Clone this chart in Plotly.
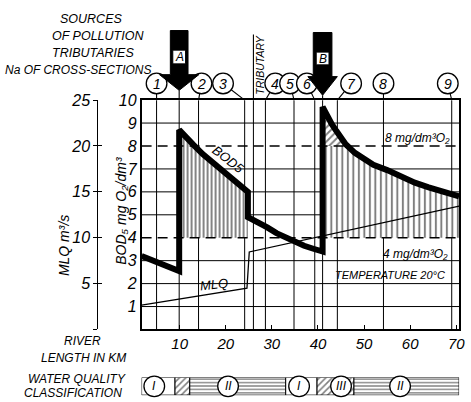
import numpy as np
import plotly.graph_objects as go

# ---------------- data (x = river length in km) ----------------
# BOD5 profile in mg O2/dm3, split into reaches between discharge points
reach1_km = [1.75, 9.9]
reach1_bod = [3.2, 2.55]
reach2_km = [9.9, 11, 13, 15, 17, 19, 21, 23, 24.8]
reach2_bod = [8.7, 8.45, 8.05, 7.65, 7.3, 6.95, 6.62, 6.3, 6.0]
reach3_km = [24.8, 27, 29, 31, 33, 35, 37, 39, 41.0]
reach3_bod = [4.9, 4.68, 4.45, 4.2, 4.0, 3.82, 3.65, 3.52, 3.4]
reach4_km = [41.0, 42, 43, 44, 45, 46, 48, 50, 52, 55, 58, 61, 64, 67, 70.6]
reach4_bod = [9.7, 9.3, 8.95, 8.65, 8.35, 8.08, 7.7, 7.4, 7.18, 6.95, 6.65, 6.4, 6.2, 6.0, 5.8]

# MLQ discharge in m3/s
mlq_km = [1.75, 24.6, 25.1, 70.6]
mlq_val = [2.65, 4.5, 8.45, 13.45]

# pollution sources, tributary and numbered cross-sections
source_names = ["A", "B"]
source_km = [9.9, 41.0]
tributary_km = 26.0
section_km = [5.0, 14.1, 24.1, 28.6, 34.8, 39.3, 44.2, 54.2, 69.0]
section_no = ["1", "2", "3", "4", "5", "6", "7", "8", "9"]

# BOD5 limits, mg O2/dm3
limit_hi = 8
limit_lo = 4

# axis ticks
bod_ticks = [1, 2, 3, 4, 5, 6, 7, 8, 9, 10]
mlq_ticks = [0, 5, 10, 15, 20, 25]
mlq_tick_text = ["", "5", "10", "15", "20", "25"]
km_ticks = [10, 20, 30, 40, 50, 60, 70]

# water quality classification along the river
wq_from = [1.75, 9.0, 12.2, 33.0, 39.8, 47.8]
wq_to = [9.0, 12.2, 33.0, 39.8, 47.8, 70.6]
wq_cls = ["I", "III", "II", "I", "III", "II"]
wq_label_km = [4.5, 20.5, 35.9, 45.0, 57.8]
wq_label_cls = ["I", "II", "I", "III", "II"]

# ---------------- layout geometry (pixels) ----------------
W, H = 471, 402
BL, BT, BR, BB = 142, 94, 465, 328          # plot box
KM_RANGE = [1.75, 70.6]
MLQ_AXIS_X = 97
FONT = "Liberation Sans, DejaVu Sans, Arial, sans-serif"


def km_px(km):
    return BL + (km - KM_RANGE[0]) / (KM_RANGE[1] - KM_RANGE[0]) * (BR - BL)


def fx(px):
    return px / W


def fy(py):
    return 1 - py / H


def it(s):
    return f"<i>{s}</i>"


def pfont(size):
    return dict(family=FONT, size=size, color="black")


shapes = []
annotations = []


def note(text, px, py, size=12, angle=0, anchor="center"):
    annotations.append(dict(text=it(text), x=fx(px), y=fy(py), xref="paper", yref="paper",
                            showarrow=False, font=pfont(size), textangle=angle,
                            xanchor=anchor, yanchor="middle"))


def pline(x0, y0, x1, y1, width=1.2, layer="above"):
    shapes.append(dict(type="line", xref="paper", yref="paper", x0=fx(x0), y0=fy(y0),
                       x1=fx(x1), y1=fy(y1), line=dict(color="black", width=width), layer=layer))


def circle(cx, cy, r, width=1.3):
    shapes.append(dict(type="circle", xref="paper", yref="paper",
                       x0=fx(cx - r), x1=fx(cx + r), y0=fy(cy + r), y1=fy(cy - r),
                       line=dict(color="black", width=width), fillcolor="white"))


fig = go.Figure()

# ---- hatched area below source A (BOD above 4 mg/dm3) ----
fig.add_trace(go.Scatter(x=[reach2_km[0], reach2_km[-1]], y=[limit_lo, limit_lo], mode="lines",
                         line=dict(width=0), hoverinfo="skip"))
fig.add_trace(go.Scatter(x=reach2_km, y=reach2_bod, mode="lines", line=dict(width=0),
                         fill="tonexty", fillcolor="white",
                         fillpattern=dict(shape="|", size=4, solidity=0.48, fgcolor="black",
                                          bgcolor="white"), hoverinfo="skip"))

# ---- hatched areas below source B ----
r4_km = np.array(reach4_km)
r4_bod = np.array(reach4_bod)
x_cross = float(np.interp(limit_hi, r4_bod[::-1], r4_km[::-1]))
above = r4_bod >= limit_hi
hi_km = np.append(r4_km[above], x_cross)
hi_bod = np.append(r4_bod[above], limit_hi)
lo_km = np.concatenate([r4_km[above], [x_cross], r4_km[~above]])
lo_bod = np.minimum(np.concatenate([r4_bod[above], [limit_hi], r4_bod[~above]]), limit_hi)

fig.add_trace(go.Scatter(x=[lo_km[0], lo_km[-1]], y=[limit_lo, limit_lo], mode="lines",
                         line=dict(width=0), hoverinfo="skip"))
fig.add_trace(go.Scatter(x=lo_km, y=lo_bod, mode="lines", line=dict(width=0),
                         fill="tonexty", fillcolor="white",
                         fillpattern=dict(shape="|", size=5.5, solidity=0.36, fgcolor="black",
                                          bgcolor="white"), hoverinfo="skip"))
fig.add_trace(go.Scatter(x=[hi_km[0], hi_km[-1]], y=[limit_hi, limit_hi], mode="lines",
                         line=dict(width=0), hoverinfo="skip"))
fig.add_trace(go.Scatter(x=hi_km, y=hi_bod, mode="lines", line=dict(width=0),
                         fill="tonexty", fillcolor="white",
                         fillpattern=dict(shape="/", size=5, solidity=0.38, fgcolor="black",
                                          bgcolor="white"), hoverinfo="skip"))

# ---- MLQ line (scale in m3/s) ----
fig.add_trace(go.Scatter(x=mlq_km, y=mlq_val, yaxis="y2", mode="lines",
                         line=dict(color="black", width=1.3), hoverinfo="skip"))
fig.add_trace(go.Scatter(x=[None], y=[None], yaxis="y4", mode="lines", hoverinfo="skip"))

# ---- BOD5 thick curve ----
bod_km = reach1_km + reach2_km + reach3_km + reach4_km
bod_val = reach1_bod + reach2_bod + reach3_bod + reach4_bod
fig.add_trace(go.Scatter(x=bod_km, y=bod_val, mode="lines",
                         line=dict(color="black", width=6), hoverinfo="skip"))

# ---- water quality classification strip ----
patterns = {"I": None,
            "II": dict(shape="-", size=3.4, solidity=0.4, fgcolor="black", bgcolor="white"),
            "III": dict(shape="/", size=4.5, solidity=0.35, fgcolor="black", bgcolor="white")}
for a, b, c in zip(wq_from, wq_to, wq_cls):
    kw = dict(fillpattern=patterns[c]) if patterns[c] else {}
    fig.add_trace(go.Scatter(x=[a, b, b, a, a], y=[0, 0, 1, 1, 0], yaxis="y3", mode="lines",
                             fill="toself", fillcolor="white",
                             line=dict(color="black", width=1), hoverinfo="skip", **kw))
for k, c in zip(wq_label_km, wq_label_cls):
    circle(km_px(k), 386, 10.5)
    note(c, km_px(k), 386, size=12)

# ---- grid lines ----
for v in bod_ticks[:-1]:
    if v in (limit_lo, limit_hi):
        shapes.append(dict(type="line", xref="paper", yref="y", x0=fx(BL), x1=fx(BR), y0=v, y1=v,
                           line=dict(color="black", width=1.7, dash="10px,6px"), layer="above"))
    else:
        shapes.append(dict(type="line", xref="paper", yref="y", x0=fx(BL), x1=fx(BR), y0=v, y1=v,
                           line=dict(color="black", width=1), layer="below"))

for k in section_km + source_km + [tributary_km]:
    shapes.append(dict(type="line", xref="x", yref="y", x0=k, x1=k, y0=0, y1=10,
                       line=dict(color="black", width=1), layer="below"))

# ---- numbered cross-sections with leader lines ----
label_dx = [0, 3, -22, 10, -4, -8, 14, 0, -4]
R = 10.5
for k, n, dx in zip(section_km, section_no, label_dx):
    lx = km_px(k)
    cx, cy = lx + dx, 77
    vx, vy = lx - cx, BT - cy
    d = (vx ** 2 + vy ** 2) ** 0.5
    pline(cx + R * vx / d, cy + R * vy / d, lx, BT, width=1.1)
    circle(cx, cy, R)
    note(n, cx, cy + 0.5, size=14)

# ---- pollution source arrows ----
arrow_geom = [dict(top=23, shaft=9, base=68, head=20, tip=84, box=(43, 57)),
              dict(top=25, shaft=9.5, base=70, head=15, tip=89, box=(45, 58))]
for name, k, g in zip(source_names, source_km, arrow_geom):
    cx = km_px(k)
    pts = [(cx - g["shaft"], g["top"]), (cx + g["shaft"], g["top"]), (cx + g["shaft"], g["base"]),
           (cx + g["head"], g["base"]), (cx, g["tip"]), (cx - g["head"], g["base"]),
           (cx - g["shaft"], g["base"])]
    path = "M " + " L ".join(f"{fx(x):.5f},{fy(y):.5f}" for x, y in pts) + " Z"
    shapes.append(dict(type="path", path=path, xref="paper", yref="paper",
                       fillcolor="black", line=dict(color="black", width=1)))
    pline(cx, g["tip"], cx, BT, width=1.1)
    y0, y1 = g["box"]
    shapes.append(dict(type="rect", xref="paper", yref="paper", x0=fx(cx - 6.5), x1=fx(cx + 6.5),
                       y0=fy(y1), y1=fy(y0), fillcolor="white", line=dict(color="black", width=1)))
    note(name, cx, (y0 + y1) / 2 + 0.5, size=12)

# ---- tributary ----
tx = km_px(tributary_km)
pline(tx, 27, tx, BT, width=1.1)
note("TRIBUTARY", tx + 6.5, 58, size=10.5, angle=-90)

# ---- texts ----
note("SOURCES", 91, 11, size=12.5)
note("OF POLLUTION", 98, 29, size=12.5)
note("TRIBUTARIES", 93, 46, size=12.5)
note("Na OF CROSS-SECTIONS", 77, 63, size=12)

note("BOD₅ mg O₂/dm³", 121, 207, size=14, angle=-90)
note("MLQ m³/s", 63, 242, size=14, angle=-90)

note("BOD5", 230, 155, size=13, angle=38)
note("MLQ", 216, 282, size=13, angle=-6)
note("8 mg/dm³O₂", 423, 133, size=12)
note("4 mg/dm³O₂", 421, 251, size=12)
note("TEMPERATURE 20°C", 395, 272, size=11)

note("RIVER", 82, 340, size=12)
note("LENGTH IN KM", 83, 357, size=12)
note("WATER QUALITY", 76, 379, size=12)
note("CLASSIFICATION", 72, 393, size=12)

# ---------------- axes ----------------
xdom = [fx(BL), fx(BR)]
ydom = [fy(BB), fy(BT)]
fig.update_layout(
    width=W, height=H, autosize=False,
    margin=dict(l=0, r=0, t=0, b=0),
    paper_bgcolor="white", plot_bgcolor="white",
    showlegend=False,
    font=dict(family=FONT, size=12, color="black"),
    xaxis=dict(domain=xdom, range=KM_RANGE, anchor="y", showgrid=False, zeroline=False,
               showline=True, linecolor="black", linewidth=1.5, mirror=True,
               tickvals=km_ticks, ticktext=[it(v) for v in km_ticks], ticklabeloverflow="allow",
               ticks="inside", ticklen=5, tickcolor="black", tickwidth=1,
               tickfont=pfont(15)),
    yaxis=dict(domain=ydom, range=[0, 10], anchor="x", showgrid=False, zeroline=False,
               showline=True, linecolor="black", linewidth=1.5, mirror=True,
               tickvals=bod_ticks, ticktext=[it(v) for v in bod_ticks], ticks="",
               tickfont=pfont(16)),
    yaxis2=dict(domain=ydom, range=[0, 25], overlaying="y", anchor="free", position=fx(MLQ_AXIS_X),
                side="left", showgrid=False, zeroline=False, showline=True, linecolor="black",
                linewidth=1.2, tickvals=mlq_ticks, ticktext=[it(t) for t in mlq_tick_text],
                ticks="outside", ticklen=4, tickwidth=1.2, tickcolor="black", tickfont=pfont(16)),
    yaxis4=dict(domain=ydom, range=[0, 25], overlaying="y", anchor="free", position=fx(MLQ_AXIS_X),
                side="left", showgrid=False, zeroline=False, showline=False,
                tickvals=mlq_ticks, showticklabels=False,
                ticks="inside", ticklen=4, tickwidth=1.2, tickcolor="black"),
    yaxis3=dict(domain=[fy(395), fy(377)], range=[0, 1], anchor="x", visible=False),
    shapes=shapes,
    annotations=annotations,
)

fig.write_html("out.html")
